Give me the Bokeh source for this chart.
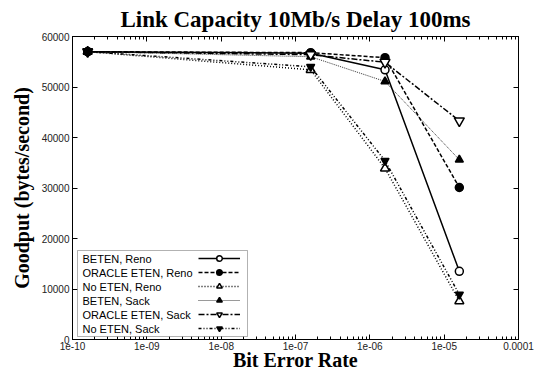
import numpy as np
from bokeh.plotting import figure
from bokeh.models import (Range1d, LinearAxis, LogAxis, FixedTicker, CustomJSTickFormatter,
                          Legend, LegendItem, Label, BoxAnnotation, Title)
from bokeh.embed import file_html
from bokeh.resources import INLINE

# ---- data ----
ber = [1.6e-10, 1.6e-7, 1.6e-6, 1.6e-5]
beten_reno = [57000, 56700, 53400, 13500]
oracle_reno = [57000, 56800, 55800, 30100]
noeten_reno = [57000, 53400, 33900, 7600]
beten_sack = [57000, 56000, 51100, 35600]
oracle_sack = [57000, 56400, 54900, 43300]
noeten_sack = [57000, 54000, 35400, 8900]
series_names = ["BETEN, Reno", "ORACLE ETEN, Reno", "No ETEN, Reno",
                "BETEN, Sack", "ORACLE ETEN, Sack", "No ETEN, Sack"]
x_tick_values = [1e-10, 1e-9, 1e-8, 1e-7, 1e-6, 1e-5, 1e-4]
x_tick_labels = ["1e-10", "1e-09", "1e-08", "1e-07", "1e-06", "1e-05", "0.0001"]
y_tick_values = [0, 10000, 20000, 30000, 40000, 50000, 60000]

TITLE_FONT = "Liberation Serif"
TICK_FONT = "Liberation Sans"

p = figure(width=540, height=375, x_axis_type="log",
           x_range=Range1d(1e-10, 1e-4), y_range=Range1d(0, 60000),
           output_backend="svg", toolbar_location=None,
           min_border_left=72, min_border_right=22, min_border_top=36, min_border_bottom=36,
           x_axis_label="Bit Error Rate", y_axis_label="Goodput (bytes/second)")

p.title = Title(text="Link Capacity 10Mb/s Delay 100ms", align="center",
                text_font=TITLE_FONT, text_font_size="23px", text_font_style="bold",
                text_color="black", offset=-5, standoff=9)

p.xgrid.visible = False
p.ygrid.visible = False
p.outline_line_color = "black"
p.background_fill_color = "white"

minor = [m * 10.0 ** e for e in range(-10, -4) for m in range(2, 10)]
xticker = FixedTicker(ticks=x_tick_values, minor_ticks=minor)
yticker = FixedTicker(ticks=y_tick_values)
fmt = CustomJSTickFormatter(args=dict(vals=x_tick_values, labs=x_tick_labels), code="""
const k = Math.round(Math.log10(tick));
for (let j = 0; j < vals.length; j++) {
  if (Math.round(Math.log10(vals[j])) == k) return labs[j];
}
return "";
""")

def style_axis(ax, labels=True):
    ax.axis_line_color = "black"
    ax.major_tick_in = 5
    ax.major_tick_out = 0
    ax.minor_tick_in = 3
    ax.minor_tick_out = 0
    ax.major_tick_line_color = "black"
    ax.minor_tick_line_color = "black"
    ax.major_label_text_font = TICK_FONT
    ax.major_label_text_font_size = "10px" if labels else "1px"
    ax.major_label_text_color = "#222222" if labels else None
    ax.major_label_standoff = 3 if labels else 0
    ax.axis_label_text_font = TITLE_FONT
    ax.axis_label_text_font_size = "20px"
    ax.axis_label_text_font_style = "bold"
    ax.axis_label_text_color = "black"

xa = p.xaxis[0]
xa.ticker = xticker
xa.formatter = fmt
style_axis(xa)
xa.major_label_standoff = 2
xa.axis_label_standoff = -4

ya = p.yaxis[0]
ya.ticker = yticker
style_axis(ya)
ya.minor_tick_in = 0
ya.axis_label_standoff = 6

top_ax = LogAxis(ticker=xticker, formatter=fmt)
style_axis(top_ax, labels=False)
p.add_layout(top_ax, "above")
right_ax = LinearAxis(ticker=yticker)
style_axis(right_ax, labels=False)
right_ax.minor_tick_in = 0
p.add_layout(right_ax, "right")

styles = [
    dict(y=beten_reno, dash="solid", lw=1.5, marker="circle", fill="white", size=8),
    dict(y=oracle_reno, dash="4 2", lw=1.5, marker="circle", fill="black", size=8),
    dict(y=noeten_reno, dash="1 2", lw=1.5, marker="triangle", fill="white", size=9),
    dict(y=beten_sack, dash="1 1", lw=0.8, marker="triangle", fill="black", size=8),
    dict(y=oracle_sack, dash="6 2 2 2", lw=1.5, marker="inverted_triangle", fill="white", size=10),
    dict(y=noeten_sack, dash="3 2 1 2 1 2", lw=1.5, marker="inverted_triangle", fill="black", size=8),
]

items = []
for name, st in zip(series_names, styles):
    lr = p.line(ber, st["y"], line_color="black", line_width=st["lw"], line_dash=st["dash"])
    sr = p.scatter(ber, st["y"], marker=st["marker"], size=st["size"], line_color="black",
                   line_width=1.5, fill_color=st["fill"])
    items.append(LegendItem(label=" ", renderers=[lr, sr]))

# legend box (label text left, line sample right)
box_l, box_r, box_b, box_t = 5, 175, 3, 89
row_h = 14
pad = 1
p.add_layout(BoxAnnotation(left=box_l, right=box_r, bottom=box_b, top=box_t,
                           left_units="screen", right_units="screen",
                           bottom_units="screen", top_units="screen",
                           fill_color="white", fill_alpha=1.0,
                           line_color="black", line_width=1, level="overlay"))
leg = Legend(items=items, location=(126, box_t - pad - len(series_names) * row_h),
             orientation="vertical",
             padding=0, spacing=0, margin=0, glyph_width=42, glyph_height=row_h,
             label_height=row_h, label_width=0, label_standoff=0,
             label_text_font_size="1px", label_text_color=None, border_line_alpha=0,
             background_fill_alpha=0)
p.add_layout(leg, "center")
for i, name in enumerate(series_names):
    p.add_layout(Label(x=box_l + 5, y=box_t - pad - row_h / 2 - i * row_h,
                       x_units="screen", y_units="screen", text=name,
                       text_font=TICK_FONT, text_font_size="11px",
                       text_baseline="middle", text_color="black", level="overlay"))

open("out.html", "w").write(file_html(p, INLINE))
